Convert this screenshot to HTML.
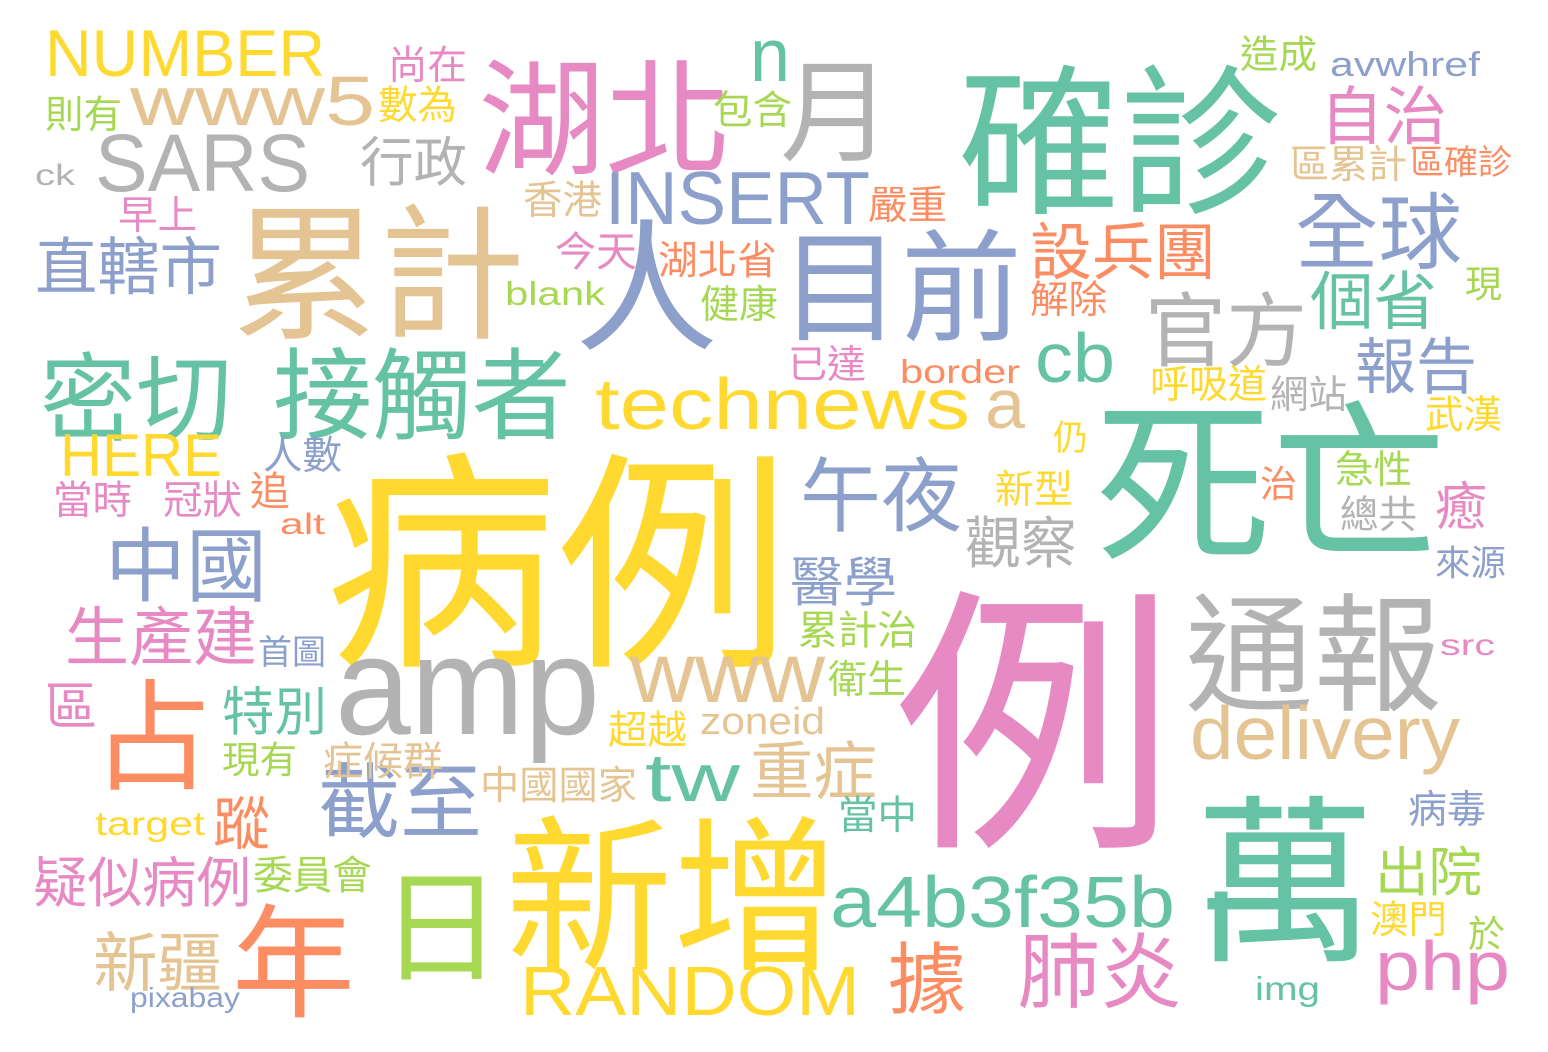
<!DOCTYPE html>
<html><head><meta charset="utf-8">
<style>
html,body{margin:0;padding:0;background:#fff;}
#cloud{position:relative;width:1548px;height:1052px;overflow:hidden;background:#fff;}
.w{position:absolute;line-height:1;white-space:nowrap;transform-origin:0 0;}
.cjk{font-family:"Noto Sans CJK TC","Noto Sans CJK SC",sans-serif;}
.lat{font-family:"Liberation Sans","DejaVu Sans",sans-serif;}
</style></head>
<body>
<div id="cloud"></div>
<script>
const G='#66c2a5',O='#fc8d62',B='#8da0cb',P='#e78ac3',L='#a6d854',Y='#ffd92f',T='#e5c494',R='#b3b3b3';
// CJK words: text, left, top, right, color
const cjkWords=['病例','例','萬','新增','日','年','占','累計','人','目前','湖北','月','確診','死亡','通報','密切','接觸者','自治','全球','行政','直轄市','設兵團','官方','個省','報告','午夜','觀察','中國','生產建','醫學','區','特別','重症','截至','蹤','現有','症候群','中國國家','超越','衛生','累計治','當中','疑似病例','委員會','出院','據','肺炎','新疆','澳門','於','病毒','來源','癒','急性','總共','治','武漢','網站','呼吸道','仍','新型','現','解除','已達','健康','湖北省','今天','香港','嚴重','包含','數為','尚在','則有','早上','造成','區累計','區確診','人數','當時','冠狀','追','首圖'];
const cjkLeft=[325,895,1195,505,380,232,92,232,575,780,478,780,958,1095,1185,40,273,1320,1295,360,35,1030,1145,1310,1355,800,965,105,65,790,45,222,750,318,213,222,323,480,608,828,798,838,33,253,1375,888,1018,93,1370,1468,1408,1435,1435,1335,1340,1260,1425,1270,1150,1053,995,1465,1030,788,700,658,555,523,868,713,378,388,45,118,1240,1290,1410,263,53,163,250,258];
const cjkTop=[445,580,790,812,865,900,675,200,215,225,55,55,60,395,590,350,345,85,190,135,235,220,290,270,335,455,515,525,605,555,680,685,740,760,795,740,740,765,710,660,610,795,855,855,845,940,930,930,900,915,790,545,480,450,495,465,395,375,365,420,470,265,280,345,285,240,230,180,185,90,85,45,95,195,35,145,145,435,480,480,470,635];
const cjkRight=[790,1175,1375,840,502,355,212,525,718,1022,732,892,1282,1447,1442,232,571,1447,1462,467,222,1216,1307,1437,1477,962,1077,267,257,897,97,327,877,482,270,297,443,637,687,906,917,917,251,372,1482,966,1182,222,1447,1505,1486,1506,1487,1412,1417,1297,1502,1347,1267,1088,1073,1502,1107,866,778,777,637,602,947,792,457,467,122,197,1317,1407,1512,342,132,242,290,326];
const cjkColor=[Y,P,G,Y,L,O,O,T,B,B,P,R,G,G,R,G,G,P,B,R,B,O,R,G,B,B,R,B,P,B,P,G,T,B,O,L,T,T,Y,L,L,G,P,L,L,O,P,T,Y,L,B,B,P,L,R,O,Y,R,Y,Y,Y,L,O,P,L,O,P,T,O,L,Y,P,L,P,L,T,O,B,P,P,O,B];
// Latin words: text, left, right, baseline, font size
const latWords=['amp','technews','www5','NUMBER','SARS','INSERT','n','cb','a','HERE','www','delivery','tw','zoneid','target','a4b3f35b','php','RANDOM','pixabay','img','src','border','blank','ck','avwhref','alt'];
const latLeft=[335,595,130,45,95,605,750,1035,985,60,630,1190,645,700,95,830,1375,520,130,1255,1440,900,505,35,1330,280];
const latRight=[600,970,375,325,310,870,790,1115,1025,222,825,1460,740,825,205,1175,1510,860,240,1320,1495,1020,605,75,1480,325];
const latBase=[735,430,125,76,192,225,82,382,428,477,703,760,802,735,835,928,990,1015,1008,1000,656,383,305,186,77,535];
const latSize=[140,72,70,66,82,75,75,70,70,60,85,75,68,38,33,72,70,70,28,33,30,33,33,30,34,30];
const latColor=[R,Y,T,Y,R,B,G,G,T,Y,T,T,G,T,Y,G,P,Y,B,G,P,O,L,R,B,O];

const cloud=document.getElementById('cloud');
function slug(s,i){return 'word-'+i;}
cjkWords.forEach(function(t,i){
  const el=document.createElement('div');
  el.className='w cjk';
  el.textContent=t;
  const size=(cjkRight[i]-cjkLeft[i])/t.length;
  el.style.fontSize=size+'px';
  el.style.left=cjkLeft[i]+'px';
  el.style.top=(cjkTop[i]-0.06*size)+'px';
  el.style.color=cjkColor[i];
  
  
  cloud.appendChild(el);
});
latWords.forEach(function(t,i){
  const el=document.createElement('div');
  el.className='w lat';
  el.textContent=t;
  const size=latSize[i];
  el.style.fontSize=size+'px';
  el.style.left=latLeft[i]+'px';
  el.style.top=(latBase[i]-0.847*size)+'px';
  el.style.color=latColor[i];
  
  
  cloud.appendChild(el);
  const w=el.getBoundingClientRect().width;
  if(w>0){el.style.transform='scaleX('+((latRight[i]-latLeft[i])/w)+')';}
});
</script>
</body></html>
